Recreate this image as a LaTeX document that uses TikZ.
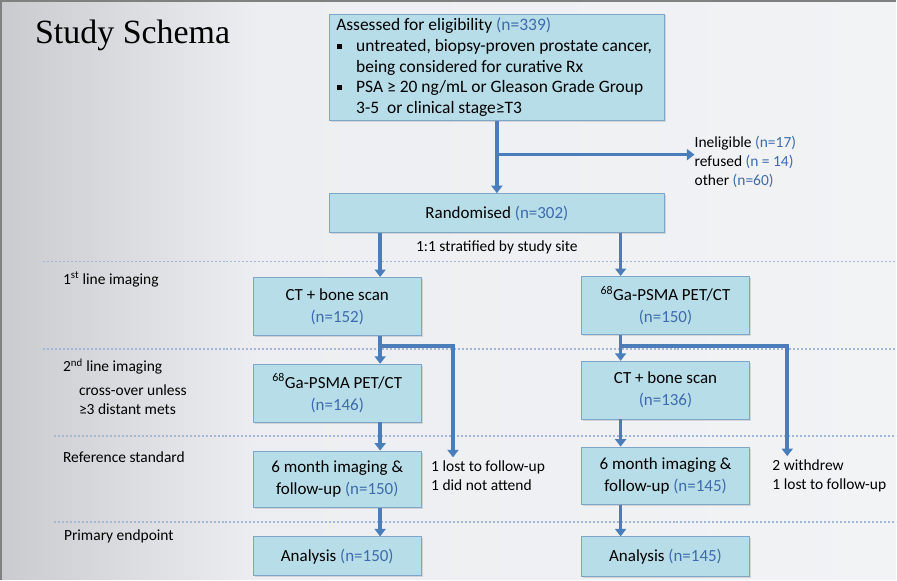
\documentclass[tikz,border=0pt]{standalone}
\usepackage{fontspec}
\setmainfont{Carlito}
\newfontfamily\titlefont{Liberation Serif}
\usetikzlibrary{arrows.meta,calc,shadows}
\definecolor{boxfill}{HTML}{B7DDE8}
\definecolor{boxline}{HTML}{7EA6C6}
\definecolor{arrowc}{HTML}{4A7EBB}
\definecolor{nblue}{HTML}{3E6BAE}
\definecolor{dotc}{HTML}{A3B8D6}
\definecolor{bgA}{HTML}{CACBCE}
\definecolor{bgB}{HTML}{ECEEF1}
\definecolor{bgC}{HTML}{F2F3F5}
\newcommand{\nn}[1]{\textcolor{nblue}{#1}}
\begin{document}
\begin{tikzpicture}[x=1pt,y=-1pt,
  stepbox/.style={draw=boxline, line width=0.8pt, fill=boxfill, align=center,
    font=\fontsize{17}{22}\selectfont, inner sep=0pt,
    drop shadow={shadow xshift=1.5pt, shadow yshift=-1.5pt, opacity=0.25}},
  arr/.style={draw=arrowc, line width=3.6pt, -{Triangle[width=11pt,length=7.5pt]}},
  sep/.style={draw=dotc, line width=1.8pt, dash pattern=on 2pt off 2pt},
  side/.style={font=\fontsize{15.5}{19}\selectfont, anchor=west, align=flush left, inner sep=0pt},
  note/.style={font=\fontsize{15.5}{19}\selectfont, anchor=west, align=flush left, inner sep=0pt}]
% background
\shade[left color=bgA, right color=bgB] (0,0) rectangle (260,581);
\shade[left color=bgB, right color=bgC] (260,0) rectangle (897,581);
\draw[black!50, line width=2pt] (0,581) -- (0,1) -- (897,1);
\useasboundingbox (0,0) rectangle (897,581);
% title
\node[anchor=west, inner sep=0pt, font=\titlefont\fontsize{34}{40}\selectfont] (title) at (34,35) {Study Schema};
% separators
\draw[sep] (42,262) -- (897,262);
\draw[sep] (42,350) -- (897,350);
\draw[sep] (53,437) -- (897,437);
\draw[sep] (53,523) -- (897,523);
% top box
\node[stepbox, minimum width=336pt, minimum height=107pt, text width=322pt, align=flush left,
  font=\fontsize{17.5}{20.7}\selectfont] (elig) at (497,67.5) {%
  Assessed for eligibility \nn{(n=339)}\\
  \makebox[20pt][l]{\hspace{1pt}\raisebox{2.5pt}{\rule{5pt}{5pt}}}untreated, biopsy-proven prostate cancer,\\
  \hspace*{20pt}being considered for curative Rx\\
  \makebox[20pt][l]{\hspace{1pt}\raisebox{2.5pt}{\rule{5pt}{5pt}}}PSA ≥ 20 ng/mL or Gleason Grade Group\\
  \hspace*{20pt}3-5\ \ or clinical stage≥T3};
\node[stepbox, minimum width=336pt, minimum height=39pt] (rand) at (497,213.5) {Randomised \nn{(n=302)}};
\node[note, anchor=center] (strat) at (497,248) {1:1 stratified by study site};
\node[note] (inel) at (695,162) {Ineligible \nn{(n=17)}\\refused \nn{(n = 14)}\\other \nn{(n=60)}};
% left column
\node[stepbox, minimum width=168pt, minimum height=58pt] (ctL) at (337,307) {CT + bone scan\\\nn{(n=152)}};
\node[stepbox, minimum width=168pt, minimum height=58pt] (petL) at (337,394) {\textsuperscript{68}Ga-PSMA PET/CT\\\nn{(n=146)}};
\node[stepbox, minimum width=168pt, minimum height=57pt] (sixL) at (337,480.5) {6 month imaging \&\\follow-up \nn{(n=150)}};
\node[stepbox, minimum width=168pt, minimum height=39pt] (anL) at (337,557.5) {Analysis \nn{(n=150)}};
% right column
\node[stepbox, minimum width=168pt, minimum height=58pt] (petR) at (666,306) {\textsuperscript{68}Ga-PSMA PET/CT\\\nn{(n=150)}};
\node[stepbox, minimum width=168pt, minimum height=58pt] (ctR) at (666,391) {CT + bone scan\\\nn{(n=136)}};
\node[stepbox, minimum width=168pt, minimum height=58pt] (sixR) at (666,477) {6 month imaging \&\\follow-up \nn{(n=145)}};
\node[stepbox, minimum width=168pt, minimum height=40pt] (anR) at (666,558) {Analysis \nn{(n=145)}};
% dropout notes
\node[note] (lostL) at (431,476.5) {1 lost to follow-up\\1 did not attend};
\node[note] (lostR) at (773,476.5) {2 withdrew\\1 lost to follow-up};
% side labels
\node[side] (l1) at (62,280) {1\textsuperscript{st} line imaging};
\node[side] (l2) at (62,367) {2\textsuperscript{nd} line imaging};
\node[side] (l2b) at (78,401) {cross-over unless\\≥3 distant mets};
\node[side] (l3) at (62,458) {Reference standard};
\node[side] (l4) at (63,538) {Primary endpoint};
% column coordinates
\coordinate (cL) at (380,0);
\coordinate (cR) at (621,0);
\coordinate (bL) at (380,347);
\coordinate (bR) at (621,347);
\coordinate (bTop) at (497,155);
% connectors
\draw[arr] (elig.south) -- (rand.north);
\draw[arr] (bTop) -- (inel.west |- bTop);
\draw[arr] (rand.south -| cL) -- (ctL.north -| cL);
\draw[arr] (rand.south -| cR) -- (petR.north -| cR);
\draw[arr] (ctL.south -| cL) -- (petL.north -| cL);
\draw[arr] (petL.south -| cL) -- (sixL.north -| cL);
\draw[arr] (sixL.south -| cL) -- (anL.north -| cL);
\draw[arr] (petR.south -| cR) -- (ctR.north -| cR);
\draw[arr] (ctR.south -| cR) -- (sixR.north -| cR);
\draw[arr] (sixR.south -| cR) -- (anR.north -| cR);
\draw[arr] (bL) -- (453,347) -- ($(lostL.north -| 453,0)+(0,-3)$);
\draw[arr] (bR) -- (788,347) -- ($(lostR.north -| 788,0)+(0,-3)$);
\end{tikzpicture}
\end{document}
